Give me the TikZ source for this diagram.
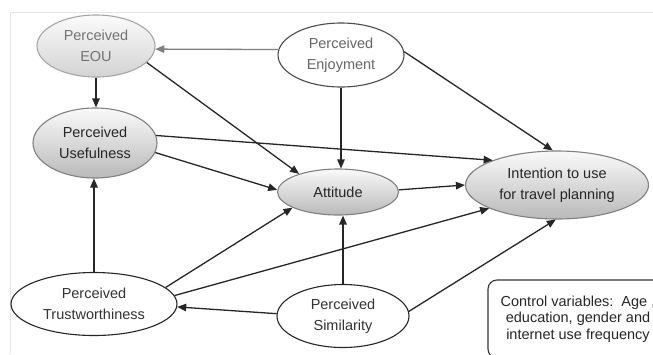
\documentclass[tikz,border=0pt]{standalone}
\usepackage{fontspec}
\setmainfont{Liberation Sans}
\usetikzlibrary{shapes.geometric,arrows.meta}
\begin{document}
\begin{tikzpicture}[x=1pt,y=-1pt,
  every node/.style={font=\fontsize{14.5}{21}\selectfont, align=center},
  ell/.style={ellipse, inner sep=0pt, line width=1.1pt},
  shadedell/.style={ell, draw=black!50, top color=gray!4, bottom color=gray!55, text=black!85},
  fadedell/.style={ell, draw=black!35, top color=gray!3, bottom color=gray!35, text=black!55},
  plainell/.style={ell, draw=black!85, fill=white, text=black!80},
  arr/.style={line width=1.3pt, draw=black!85, -{Triangle[length=9pt,width=7.5pt]}}
]
\useasboundingbox (0,0) rectangle (653,354);
\clip (0,0) rectangle (653,354);
\draw[black!10, line width=0.8pt] (10,354) -- (10,12) -- (653,12);

\node[fadedell, minimum width=118pt, minimum height=62pt] (eou) at (96,46) {Perceived\\EOU};
\node[plainell, draw=black!70, text=black!60, minimum width=126pt, minimum height=64pt] (enj) at (341,55) {Perceived\\Enjoyment};
\node[shadedell, minimum width=124pt, minimum height=70pt] (use) at (95,143) {Perceived\\Usefulness};
\node[shadedell, minimum width=121pt, minimum height=46pt] (att) at (338,192) {Attitude};
\node[shadedell, minimum width=183pt, minimum height=68pt] (int) at (557,185) {Intention to use\\for travel planning};
\node[plainell, minimum width=166pt, minimum height=63pt] (tru) at (94,304) {Perceived\\Trustworthiness};
\node[plainell, minimum width=132pt, minimum height=63pt] (sim) at (343,316) {Perceived\\Similarity};
\node[draw=black!80, line width=1.1pt, rounded corners=9pt, minimum width=180pt, minimum height=78pt,
      font=\fontsize{14.5}{16.7}\selectfont, text=black!85] (ctrl) at (578,319)
      {Control variables:~~Age ,\\education, gender and\\internet use frequency};

\draw[arr, draw=black!50] (enj.175) -- (eou.-3);
\draw[arr] (eou.south) -- (eou.south |- use.north);
\draw[arr] (eou.-18) -- (att.155);
\draw[arr] (enj.south) -- (enj.south |- att.north);
\draw[arr] (enj.3) -- (int.97);
\draw[arr] (use.7) -- (int.159);
\draw[arr] (use.-9) -- (att.178);
\draw[arr] (att.2) -- (int.180);
\draw[arr] (tru.north) -- (tru.north |- use.south);
\draw[arr] (tru.13) -- (att.199);
\draw[arr] (tru.6) -- (int.199);
\draw[arr] (sim.178) -- (tru.-2);
\draw[arr] (sim.north) -- (sim.north |- att.south);
\draw[arr] (sim.4) -- (int.-92);
\end{tikzpicture}
\end{document}
